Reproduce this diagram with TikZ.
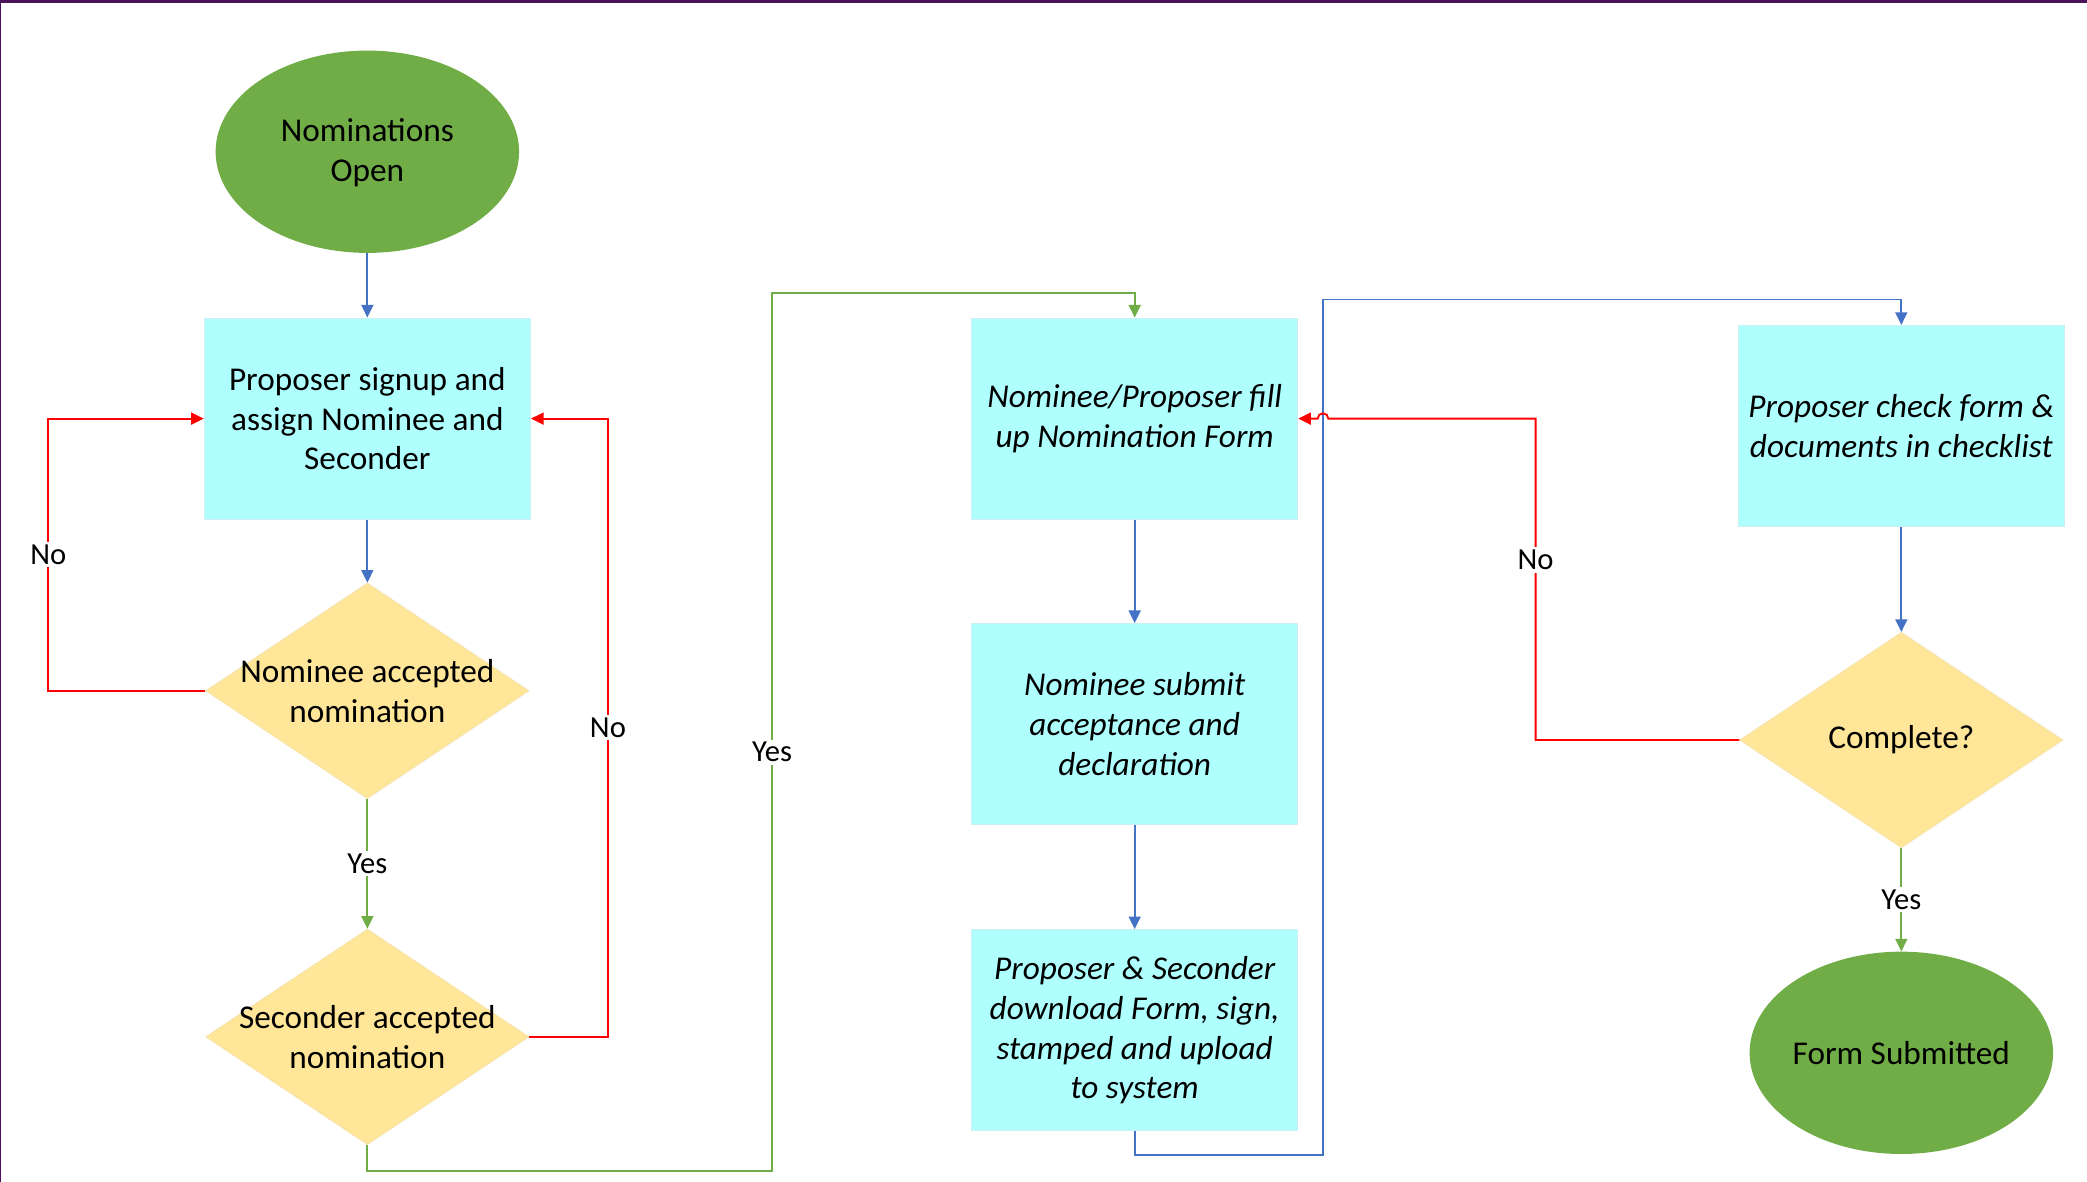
\documentclass[tikz,border=0pt]{standalone}
\usepackage{fontspec}
\setmainfont{Carlito}
\usetikzlibrary{shapes.geometric,arrows.meta}
\definecolor{termgreen}{HTML}{70AD47}
\definecolor{boxcyan}{HTML}{AFFFFF}
\definecolor{boxedge}{HTML}{CBEFF3}
\definecolor{decyellow}{HTML}{FFE699}
\definecolor{decedge}{HTML}{F3E3B0}
\definecolor{lineblue}{HTML}{4472C4}
\definecolor{linegreen}{HTML}{70AD47}
\definecolor{linered}{HTML}{FF0000}
\definecolor{framepurple}{HTML}{4A1259}
\begin{document}
\begin{tikzpicture}[x=1pt,y=-1pt,
  txt/.style={font=\fontsize{25}{30}\selectfont, align=center, inner sep=0pt},
  terminal/.style={ellipse, fill=termgreen, minimum width=228pt, minimum height=152pt, inner sep=0pt},
  procbox/.style={rectangle, fill=boxcyan, draw=boxedge, line width=0.8pt, minimum width=245pt, minimum height=151pt, inner sep=0pt, align=center, font=\fontsize{25}{30}\selectfont\itshape},
  decision/.style={diamond, fill=decyellow, draw=decedge, line width=0.5pt, minimum width=243pt, minimum height=162pt, inner sep=0pt},
  conn/.style={line width=1.4pt, -{Triangle[length=9.5pt,width=9pt]}},
  blueconn/.style={conn, draw=lineblue, color=lineblue},
  greenconn/.style={conn, draw=linegreen, color=linegreen},
  redconn/.style={conn, draw=linered, color=linered},
  lbl/.style={fill=white, text=black, inner sep=2pt, font=\fontsize{23}{27}\selectfont}
]
\useasboundingbox (0,0) rectangle (1568,888);
\fill[white] (0,0) rectangle (1568,888);
\draw[framepurple, line width=2pt] (0,1) -- (1568,1);
\draw[framepurple, line width=1pt] (0.5,0) -- (0.5,888);

% nodes
\node[terminal] (start) at (276,114) {};
\node[txt] (starttxt) at (276,115) {Nominations\\Open};
\node[procbox, font=\fontsize{25}{30}\selectfont] (signup) at (276,314.5) {Proposer signup and\\assign Nominee and\\Seconder};
\node[decision] (nomacc) at (276,519) {};
\node[txt] (nomacctxt) at (nomacc) {Nominee accepted\\nomination};
\node[decision] (secacc) at (276,779) {};
\node[txt] (secacctxt) at (secacc) {Seconder accepted\\nomination};

\node[procbox] (fill) at (852.5,314.5) {Nominee/Proposer fill\\up Nomination Form};
\node[procbox] (submit) at (852.5,544) {Nominee submit\\acceptance and\\declaration};
\node[procbox] (upload) at (852.5,774) {Proposer \& Seconder\\download Form, sign,\\stamped and upload\\to system};

\node[procbox] (check) at (1428.5,320) {Proposer check form \&\\documents in checklist};
\node[decision] (complete) at (1428.5,556) {};
\node[txt] (completetxt) at (complete) {Complete?};
\node[terminal] (done) at (1428.5,791) {};
\node[txt] (donetxt) at (done) {Form Submitted};

% connectors
\draw[blueconn] (start.south) -- (signup.north);
\draw[blueconn] (signup.south) -- (nomacc.north);
\draw[redconn] (nomacc.west) -- ++(-118,0) |- node[lbl, pos=0.25] {No} (signup.west);
\draw[greenconn] (nomacc.south) -- node[lbl] {Yes} (secacc.north);
\draw[redconn] (secacc.east) -- ++(59,0) |- node[lbl, pos=0.25] {No} (signup.east);
\draw[greenconn] (secacc.south) |- (580,880) -- node[lbl, pos=0.477] {Yes} (580,220) -| (fill.north);

\draw[blueconn] (fill.south) -- (submit.north);
\draw[blueconn] (submit.south) -- (upload.north);
\draw[blueconn] (upload.south) |- (994,868) -- (994,225) -| (check.north);

\draw[blueconn] (check.south) -- (complete.north);
\draw[redconn] (complete.west) -- ++(-153,0) |- node[lbl, pos=0.28] {No} (998,314.5) arc[start angle=0, end angle=-180, radius=4] -- (fill.east);
\draw[greenconn] (complete.south) -- node[lbl] {Yes} (done.north);
\end{tikzpicture}
\end{document}
